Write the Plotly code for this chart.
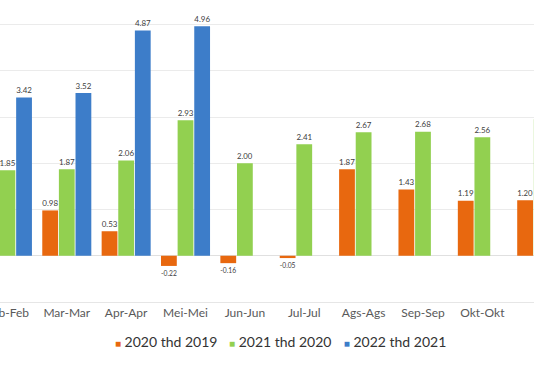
import plotly.graph_objects as go

categories = ["Feb-Feb", "Mar-Mar", "Apr-Apr", "Mei-Mei", "Jun-Jun",
              "Jul-Jul", "Ags-Ags", "Sep-Sep", "Okt-Okt", "Nov-Nov"]
s2020 = [1.10, 0.98, 0.53, -0.22, -0.16, -0.05, 1.87, 1.43, 1.19, 1.20]
s2021 = [1.85, 1.87, 2.06, 2.93, 2.00, 2.41, 2.67, 2.68, 2.56, 2.95]
s2022 = [3.42, 3.52, 4.87, 4.96, None, None, None, None, None, None]
names = ["2020 thd 2019", "2021 thd 2020", "2022 thd 2021"]
colors = ["#E8680F", "#92D050", "#3D7DC9"]
legend_ids = ["legend", "legend2", "legend3"]
legend_x = [0.1404, 0.354, 0.569]

FONT = "Lato"

fig = go.Figure()
for name, vals, col, lid in zip(names, [s2020, s2021, s2022], colors, legend_ids):
    fig.add_trace(go.Bar(
        x=categories, y=vals, name=name, marker_color=col,
        marker_line_width=0,
        text=[None if v is None else f"{v:.2f}" for v in vals],
        textposition="outside", cliponaxis=False,
        textfont=dict(family=FONT, size=11, color="#404040"),
        showlegend=False,
    ))
    # legend entry: coloured square glyph directly before the label (as in the original)
    fig.add_trace(go.Scatter(
        x=[None], y=[None], mode="markers", legend=lid,
        name=f"<span style='color:{col};font-size:10px'>■</span> {name}",
        marker=dict(symbol="square", size=1, color="rgba(0,0,0,0)",
                    line=dict(width=0, color="rgba(0,0,0,0)")),
    ))

legend_style = dict(orientation="h", xanchor="left", y=-0.132, yanchor="middle",
                    font=dict(family=FONT, size=14, color="#333333"),
                    itemwidth=30, bgcolor="rgba(0,0,0,0)")

fig.update_layout(
    width=534, height=370,
    margin=dict(l=0, r=0, t=0, b=68, autoexpand=False),
    paper_bgcolor="white", plot_bgcolor="white",
    barmode="group", bargap=0.16, bargroupgap=0.05,
    font=dict(family=FONT, color="#595959"),
    legend=dict(x=legend_x[0], **legend_style),
    legend2=dict(x=legend_x[1], **legend_style),
    legend3=dict(x=legend_x[2], **legend_style),
)
fig.update_xaxes(
    type="category", range=[-0.125, 8.87], showgrid=False, automargin=False,
    showline=True, linecolor="#e6e6e6", linewidth=1,
    ticks="", tickfont=dict(family=FONT, size=12, color="#595959"),
)
fig.update_yaxes(
    range=[-1, 5.53], dtick=1, showgrid=True, gridcolor="#ebebeb", gridwidth=1,
    zeroline=True, zerolinecolor="#e0e0e0", zerolinewidth=1, automargin=False,
    showticklabels=False, ticks="",
)
fig.write_html("out.html",
               config={"displayModeBar": False},
               post_script="document.body.style.margin='0';document.body.style.padding='0';")
